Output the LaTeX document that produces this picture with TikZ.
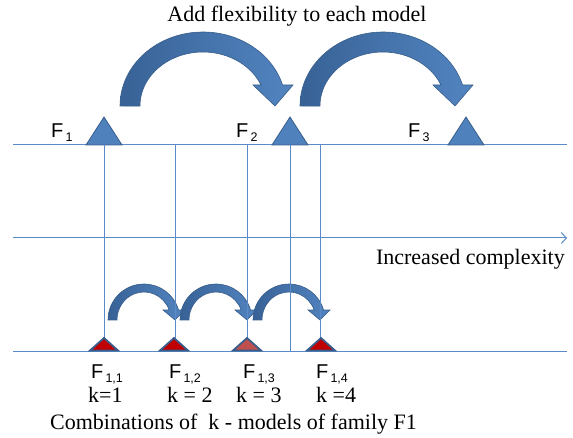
\documentclass[tikz,border=0pt]{standalone}
\usepackage{fontspec}
\setmainfont{Liberation Serif}
\newfontfamily\arialf{Liberation Sans}
\usetikzlibrary{arrows.meta}
\definecolor{lineblue}{RGB}{91,139,199}
\definecolor{triblue}{RGB}{79,129,189}
\definecolor{triedge}{RGB}{56,93,138}
\definecolor{arrdark}{RGB}{56,98,150}
\definecolor{arrlight}{RGB}{82,132,192}
\definecolor{darkred}{RGB}{192,0,0}
\definecolor{lightred}{RGB}{192,80,77}
\newcommand\FF[1]{F\raisebox{-0.2em}{\fontsize{12.5}{13}\selectfont\,#1}}
\begin{document}
\begin{tikzpicture}[x=1pt,y=1pt,
  axisline/.style={draw=lineblue, line width=1pt},
  vline/.style={draw=lineblue, line width=1pt},
  toptri/.style={fill=triblue, draw=triedge, line width=0.8pt, line join=miter},
  bottri/.style={draw=triedge, line width=1.8pt, line join=miter},
  blockarrow/.style={left color=arrdark, right color=arrlight, draw=triedge, line width=0.6pt},
  serif/.style={font=\fontsize{22}{24}\selectfont, inner sep=0pt},
  sans/.style={font=\arialf\fontsize{20}{22}\selectfont, inner sep=0pt}]
\useasboundingbox (0,0) rectangle (573,437);

% horizontal lines
\coordinate (topL) at (13,292);  \coordinate (topR) at (567,292);
\coordinate (midL) at (13,199);  \coordinate (midR) at (567,199);
\coordinate (botL) at (13,86);   \coordinate (botR) at (567,86);
\draw[axisline] (topL) -- (topR);
\draw[axisline, -{Straight Barb[length=5pt,width=11pt]}] (midL) -- (midR);
\draw[axisline] (botL) -- (botR);

% big block arrows
\foreach \cx in {203,383}{
\begin{scope}[shift={(\cx,331)}]
\path[blockarrow] (-83,0) arc[start angle=180,end angle=16.5,x radius=83,y radius=74]
  -- (90,21) -- (72,0) -- (50,21) -- (58,21)
  arc[start angle=22.9,end angle=180,x radius=63,y radius=54] -- cycle;
\end{scope}}

% small block arrows
\foreach \cx in {144,216,289}{
\begin{scope}[shift={(\cx,117)}]
\path[blockarrow] (-36,0) arc[start angle=180,end angle=16.1,x radius=36,y radius=36]
  -- (41,10) -- (31,0) -- (19,10) -- (25.2,10)
  arc[start angle=20.9,end angle=180,x radius=27,y radius=28] -- cycle;
\end{scope}}

% top triangles
\foreach \n/\x in {1/104,2/290,3/466}{
  \coordinate (T\n) at (\x,292);
  \path[toptri] (\x-18,292) -- (\x,320) -- (\x+18,292) -- cycle;
}

% vertical lines
\coordinate (b1) at (104,99);
\coordinate (b2) at (175,99);
\coordinate (b3) at (247,99);
\coordinate (b4) at (320,99);
\coordinate (a2) at (175,292);
\coordinate (a3) at (247,292);
\coordinate (a4) at (320,292);
\coordinate (f2b) at (290,86);
\draw[vline] (T1) -- (b1);
\draw[vline] (a2) -- (b2);
\draw[vline] (a3) -- (b3);
\draw[vline] (a4) -- (b4);
\draw[vline] (T2) -- (f2b);

% bottom triangles
\foreach \x/\c in {104/darkred,174/darkred,247/lightred,321/darkred}{
  \path[bottri, fill=\c] (\x-14,86.5) -- (\x,99) -- (\x+14,86.5) -- cycle;
}

% labels
\node[serif, anchor=base] (title) at (297,415) {Add flexibility to each model};
\node[serif, anchor=base east] (cplx) at (565,172) {Increased complexity};
\node[sans, anchor=base west] (F1) at (51,299) {\FF{1}};
\node[sans, anchor=base west] (F2) at (236,299) {\FF{2}};
\node[sans, anchor=base west] (F3) at (408,299) {\FF{3}};
\node[sans, anchor=base west] (F11) at (91,59) {\FF{1,1}};
\node[sans, anchor=base west] (F12) at (169,59) {\FF{1,2}};
\node[sans, anchor=base west] (F13) at (243,59) {\FF{1,3}};
\node[sans, anchor=base west] (F14) at (316,59) {\FF{1,4}};
\node[serif, anchor=base west] (k1) at (88,35) {k=1};
\node[serif, anchor=base west] (k2) at (167,35) {k = 2};
\node[serif, anchor=base west] (k3) at (236,35) {k = 3};
\node[serif, anchor=base west] (k4) at (316,35) {k =4};
\node[serif, anchor=base west] (comb) at (50,8) {Combinations of\ \ k - models of family F1};
\end{tikzpicture}
\end{document}
